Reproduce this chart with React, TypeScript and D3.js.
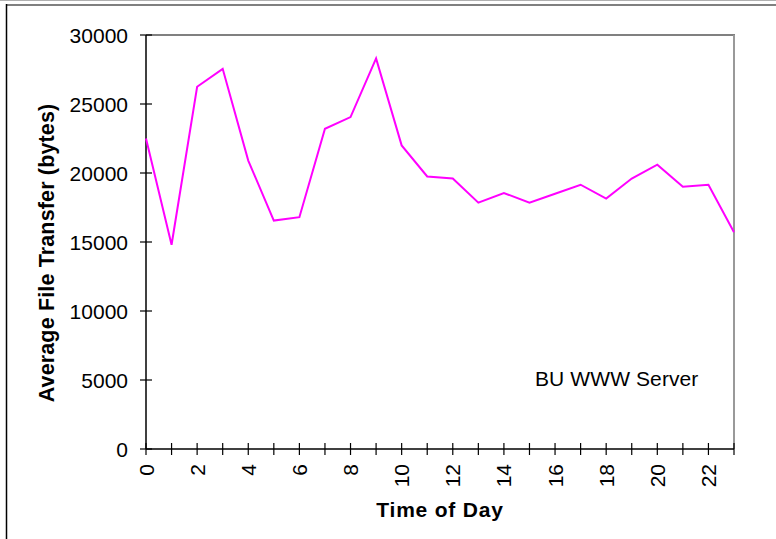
import React from "react";
import * as d3 from "d3";

const hours = [0, 1, 2, 3, 4, 5, 6, 7, 8, 9, 10, 11, 12, 13, 14, 15, 16, 17, 18, 19, 20, 21, 22, 23];
const avgTransfer = [22500, 14800, 26250, 27550, 20900, 16550, 16800, 23200, 24050, 28300, 22000, 19750, 19600, 17850, 18550, 17850, 18500, 19150, 18150, 19600, 20600, 19000, 19150, 15700];
const yTicks = [0, 5000, 10000, 15000, 20000, 25000, 30000];
const xLabelTicks = [0, 2, 4, 6, 8, 10, 12, 14, 16, 18, 20, 22];
const seriesLabel = "BU WWW Server";
const xTitle = "Time of Day";
const yTitle = "Average File Transfer (bytes)";

export default function App() {
  const W = 776, H = 539;
  const left = 146, right = 734, top = 35, bottom = 449;
  const x = d3.scaleLinear().domain([0, 23]).range([left, right]);
  const y = d3.scaleLinear().domain([0, 30000]).range([bottom, top]);
  const line = d3.line<number>().x((_, i) => x(hours[i])).y((d) => y(d));
  const font = "Arial, 'Liberation Sans', sans-serif";
  return (
    <svg width={W} height={H} style={{ position: "absolute", left: 0, top: 0, background: "#fff" }}>
      {/* outer frame */}
      <line x1={0} x2={W} y1={0.5} y2={0.5} stroke="#b0b0b0" strokeWidth={1} />
      <line x1={6} x2={W} y1={5} y2={5} stroke="#808080" strokeWidth={2} />
      <line x1={6.5} x2={6.5} y1={4} y2={H} stroke="#000" strokeWidth={1.5} />
      {/* plot frame */}
      <line x1={left} x2={right + 1} y1={top} y2={top} stroke="#808080" strokeWidth={2} />
      <line x1={right} x2={right} y1={top} y2={bottom} stroke="#999" strokeWidth={2} />
      {/* axes */}
      <line x1={left} x2={left} y1={top} y2={bottom} stroke="#000" strokeWidth={1.5} />
      <line x1={left} x2={right} y1={bottom} y2={bottom} stroke="#000" strokeWidth={1.5} />
      {yTicks.map((t) => (
        <g key={"y" + t}>
          <line x1={left - 6} x2={left + 6} y1={y(t)} y2={y(t)} stroke="#000" strokeWidth={1.2} />
          <text x={128} y={y(t)} dy="0.36em" textAnchor="end" fontFamily={font} fontSize={21} fill="#000">
            {t}
          </text>
        </g>
      ))}
      {hours.map((h) => (
        <line key={"xt" + h} x1={x(h)} x2={x(h)} y1={bottom - 6} y2={bottom + 6} stroke="#000" strokeWidth={1.2} />
      ))}
      {xLabelTicks.map((h) => (
        <text
          key={"xl" + h}
          transform={`translate(${x(h)},464) rotate(-90)`}
          dy="0.36em"
          textAnchor="end"
          fontFamily={font}
          fontSize={21}
          fill="#000"
        >
          {h}
        </text>
      ))}
      <path d={line(avgTransfer) || ""} fill="none" stroke="#ff00ff" strokeWidth={2} />
      <text x={535} y={386} fontFamily={font} fontSize={21} fill="#000" letterSpacing={0.1}>
        {seriesLabel}
      </text>
      <text x={440} y={517} textAnchor="middle" fontFamily={font} fontSize={21} fontWeight="bold" letterSpacing={0.8} fill="#000">
        {xTitle}
      </text>
      <text
        transform="translate(54,253) rotate(-90)"
        textAnchor="middle"
        fontFamily={font}
        fontSize={21.5}
        fontWeight="bold"
        letterSpacing={0.15}
        fill="#000"
      >
        {yTitle}
      </text>
    </svg>
  );
}
